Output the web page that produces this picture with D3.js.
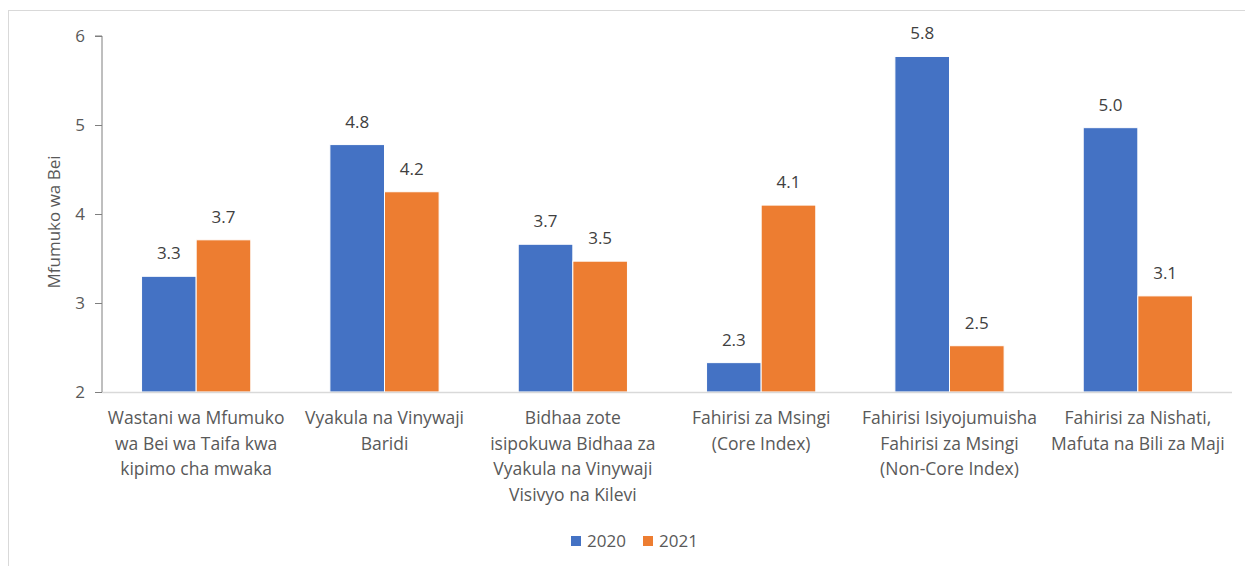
<!DOCTYPE html>
<html>
<head>
<meta charset="utf-8">
<script src="https://cdn.jsdelivr.net/npm/d3@7"></script>
<style>
  body { margin: 0; background: #fff; }
  text { font-family: "Open Sans", "Noto Sans", sans-serif; fill: #595959; }
</style>
</head>
<body>
<script>
// chart data
var categories = [
  ["Wastani wa Mfumuko", "wa Bei wa Taifa kwa", "kipimo cha mwaka"],
  ["Vyakula na Vinywaji", "Baridi"],
  ["Bidhaa zote", "isipokuwa Bidhaa za", "Vyakula na Vinywaji", "Visivyo na Kilevi"],
  ["Fahirisi za Msingi", "(Core Index)"],
  ["Fahirisi Isiyojumuisha", "Fahirisi za Msingi", "(Non-Core Index)"],
  ["Fahirisi za Nishati,", "Mafuta na Bili za Maji"]
];
var series = ["2020", "2021"];
var values2020 = [3.3, 4.78, 3.66, 2.33, 5.77, 4.97];
var values2021 = [3.71, 4.25, 3.47, 4.1, 2.52, 3.08];
var labels2020 = ["3.3", "4.8", "3.7", "2.3", "5.8", "5.0"];
var labels2021 = ["3.7", "4.2", "3.5", "4.1", "2.5", "3.1"];
var yTicks = [2, 3, 4, 5, 6];
var colors = ["#4472C4", "#ED7D31"];

var width = 1245, height = 566;
var margin = {left: 102, right: 13, top: 36, bottom: 174};

var svg = d3.select("body").append("svg")
    .attr("width", width)
    .attr("height", height);

// outer chart frame
svg.append("rect")
    .attr("x", 8.5).attr("y", 10.5)
    .attr("width", 1260).attr("height", 600)
    .attr("fill", "none")
    .attr("stroke", "#d9d9d9");

var x0 = d3.scaleBand()
    .domain(d3.range(categories.length))
    .range([margin.left, width - margin.right])
    .paddingInner(0.42)
    .paddingOuter(0.21);

var x1 = d3.scaleBand()
    .domain(series)
    .range([0, x0.bandwidth()]);

var y = d3.scaleLinear()
    .domain([2, 6])
    .range([height - margin.bottom, margin.top]);

var rows = categories.map(function(c, i) {
  return [
    {s: "2020", v: values2020[i], l: labels2020[i]},
    {s: "2021", v: values2021[i], l: labels2021[i]}
  ];
});

// bars
var g = svg.append("g");
var groups = g.selectAll(".grp")
    .data(rows)
    .enter().append("g")
    .attr("class", "grp")
    .attr("transform", function(d, i) { return "translate(" + x0(i) + ",0)"; });

groups.selectAll("rect")
    .data(function(d) { return d; })
    .enter().append("rect")
    .attr("x", function(d) { return x1(d.s); })
    .attr("y", function(d) { return y(d.v); })
    .attr("width", x1.bandwidth())
    .attr("height", function(d) { return y(2) - y(d.v); })
    .attr("fill", function(d, i) { return colors[i]; })
    .attr("stroke", "#fff")
    .attr("stroke-width", 1);

groups.selectAll(".lbl")
    .data(function(d) { return d; })
    .enter().append("text")
    .attr("class", "lbl")
    .attr("x", function(d) { return x1(d.s) + x1.bandwidth() / 2; })
    .attr("y", function(d) { return y(d.v) - 17; })
    .attr("text-anchor", "middle")
    .style("font-size", "17px")
    .style("fill", "#404040")
    .text(function(d) { return d.l; });

// x baseline
svg.append("line")
    .attr("x1", margin.left).attr("x2", width - margin.right)
    .attr("y1", y(2) + 0.5).attr("y2", y(2) + 0.5)
    .attr("stroke", "#d9d9d9")
    .attr("stroke-width", 1.5);

// category labels
var cl = svg.append("g").selectAll("text")
    .data(categories)
    .enter().append("text")
    .attr("text-anchor", "middle")
    .attr("x", function(d, i) { return x0(i) + x0.bandwidth() / 2; })
    .style("font-size", "17.5px");
cl.selectAll("tspan")
    .data(function(d) { return d; })
    .enter().append("tspan")
    .attr("x", function() { return this.parentNode.getAttribute("x"); })
    .attr("y", function(d, i) { return y(2) + 32 + i * 25.5; })
    .text(function(d) { return d; });

// y axis
var yAxis = svg.append("g")
    .attr("transform", "translate(" + margin.left + ",0)")
    .call(d3.axisLeft(y).tickValues(yTicks).tickSize(7).tickPadding(10).tickFormat(d3.format("d")));
yAxis.select(".domain").attr("stroke", "#7f7f7f").attr("d", "M-7," + y(6) + "H0V" + y(2));
yAxis.selectAll(".tick line").attr("stroke", "#7f7f7f");
yAxis.selectAll(".tick text")
    .style("font-size", "17px")
    .style("font-family", "'Open Sans', sans-serif")
    .attr("fill", "#595959");

svg.append("text")
    .attr("transform", "translate(60," + ((y(2) + y(6)) / 2 + 8) + ") rotate(-90)")
    .attr("text-anchor", "middle")
    .style("font-size", "17px")
    .text("Mfumuko wa Bei");

// legend
var legend = svg.append("g").attr("transform", "translate(571,541)");
var li = legend.selectAll("g")
    .data(series)
    .enter().append("g")
    .attr("transform", function(d, i) { return "translate(" + (i * 72) + ",0)"; });
li.append("rect")
    .attr("x", 0).attr("y", -5)
    .attr("width", 10).attr("height", 10)
    .attr("fill", function(d, i) { return colors[i]; });
li.append("text")
    .attr("x", 16).attr("y", 6)
    .style("font-size", "17px")
    .text(function(d) { return d; });
</script>
</body>
</html>
